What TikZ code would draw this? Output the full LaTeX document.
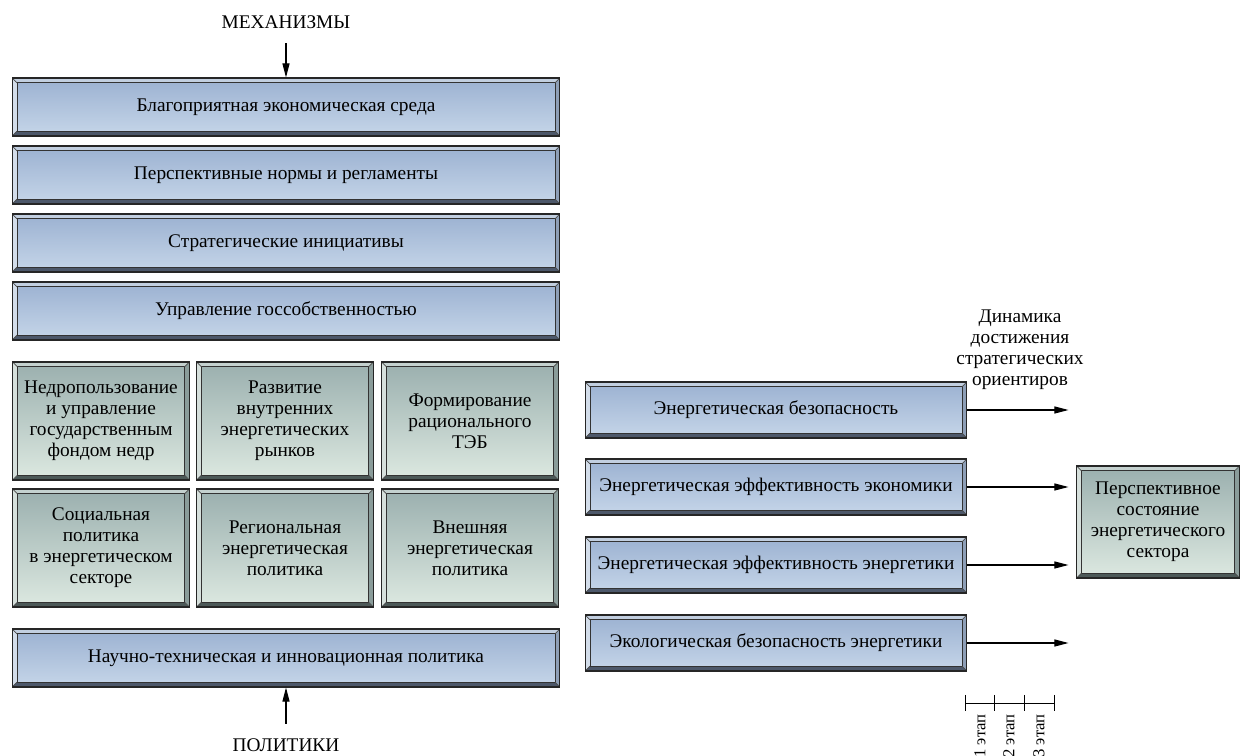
\documentclass[tikz,border=0pt]{standalone}
\usepackage{fontspec}
\setmainfont{Liberation Serif}
\usetikzlibrary{arrows.meta,calc}

\definecolor{bluetop}{HTML}{9BB1D1}
\definecolor{bluebot}{HTML}{C6D6E9}
\definecolor{bluet}{HTML}{C2CFE0}
\definecolor{bluel}{HTML}{D3DDEA}
\definecolor{bluer}{HTML}{8E9FB7}
\definecolor{blueb}{HTML}{4D586A}
\definecolor{greentop}{HTML}{9AAFAE}
\definecolor{greenbot}{HTML}{DDE9E1}
\definecolor{greent}{HTML}{C4D1CF}
\definecolor{greenl}{HTML}{D6E0DC}
\definecolor{greenr}{HTML}{8A9C9A}
\definecolor{greenb}{HTML}{4C5958}

\tikzset{
  bevel/.style={path picture={
      \coordinate (pa) at (path picture bounding box.north west);
      \coordinate (pb) at (path picture bounding box.north east);
      \coordinate (pc) at (path picture bounding box.south east);
      \coordinate (pd) at (path picture bounding box.south west);
      \coordinate (qa) at ($(pa)+(2.8pt,-2.8pt)$);
      \coordinate (qb) at ($(pb)+(-2.8pt,-2.8pt)$);
      \coordinate (qc) at ($(pc)+(-2.8pt,2.8pt)$);
      \coordinate (qd) at ($(pd)+(2.8pt,2.8pt)$);
      \fill[#1t] (pa)--(pb)--(qb)--(qa)--cycle;
      \fill[#1l] (pa)--(qa)--(qd)--(pd)--cycle;
      \fill[#1r] (pb)--(pc)--(qc)--(qb)--cycle;
      \fill[#1b] (pd)--(qd)--(qc)--(pc)--cycle;
      \draw[black!80,line width=0.5pt] (qa) rectangle (qc);
      \draw[black!70,line width=0.4pt] (pa)--(qa) (pb)--(qb) (pc)--(qc) (pd)--(qd);
    }},
  plate/.style={draw=black!85,line width=0.6pt,align=center,inner sep=1pt,
    top color=#1top,bottom color=#1bot,bevel=#1},
  platewide/.style={plate=blue,minimum width=10.96cm,minimum height=1.16cm},
  plategoal/.style={plate=blue,minimum width=7.64cm,minimum height=1.12cm},
  platecell/.style={plate=green,minimum width=3.54cm,minimum height=2.36cm},
  arr/.style={-{Triangle[length=8pt,width=4pt]},line width=0.6pt}
}

\begin{document}
\begin{tikzpicture}[x=0.02cm,y=-0.02cm,font=\fontsize{11}{12}\selectfont]
  \useasboundingbox (0,0) rectangle (1242,756);
  % mechanisms
  \node (mech) at (286,22) {МЕХАНИЗМЫ};
  \node[platewide] (b1) at (286,107) {Благоприятная экономическая среда};
  \node[platewide] (b2) at (286,175) {Перспективные нормы и регламенты};
  \node[platewide] (b3) at (286,243) {Стратегические инициативы};
  \node[platewide] (b4) at (286,311) {Управление госсобственностью};
  % policies
  \node[platecell] (c1) at (101,421) {Недропользование\\и управление\\государственным\\фондом недр};
  \node[platecell] (c2) at (285,421) {Развитие\\внутренних\\энергетических\\рынков};
  \node[platecell] (c3) at (470,421) {Формирование\\рационального\\ТЭБ};
  \node[platecell] (c4) at (101,548) {Социальная\\политика\\в энергетическом\\секторе};
  \node[platecell] (c5) at (285,548) {Региональная\\энергетическая\\политика};
  \node[platecell] (c6) at (470,548) {Внешняя\\энергетическая\\политика};
  \node[platewide] (b5) at (286,658) {Научно-техническая и инновационная политика};
  \node (pol) at (286,745) {ПОЛИТИКИ};
  \draw[arr] ([yshift=-5pt]mech.south) -- (b1);
  \draw[arr] ([yshift=5pt]pol.north) -- (b5);
  % strategic targets
  \node[plategoal] (e1) at (776,410) {Энергетическая безопасность};
  \node[plategoal] (e2) at (776,487) {Энергетическая эффективность экономики};
  \node[plategoal] (e3) at (776,565) {Энергетическая эффективность энергетики};
  \node[plategoal] (e4) at (776,643) {Экологическая безопасность энергетики};
  \node[align=center] (dyn) at (1020,350) {Динамика\\достижения\\стратегических\\ориентиров};
  \node[platecell,minimum width=3.26cm,minimum height=2.24cm] (state) at (1158,522)
    {Перспективное\\состояние\\энергетического\\сектора};
  \foreach \i in {1,...,4} {
    \coordinate (t\i) at ([xshift=2.02cm]e\i.east);
    \draw[arr] (e\i) -- (t\i);
  }
  % stages
  \draw (965,703) -- (1054,703);
  \foreach \x in {965,994,1024,1054} \draw (\x,695) -- (\x,711);
  \foreach \i/\x in {1/980,2/1009,3/1039}
    \node[rotate=90,anchor=east,inner sep=0pt,font=\fontsize{9.5}{11}\selectfont]
      (s\i) at (\x,714) {\i~этап};
\end{tikzpicture}
\end{document}
